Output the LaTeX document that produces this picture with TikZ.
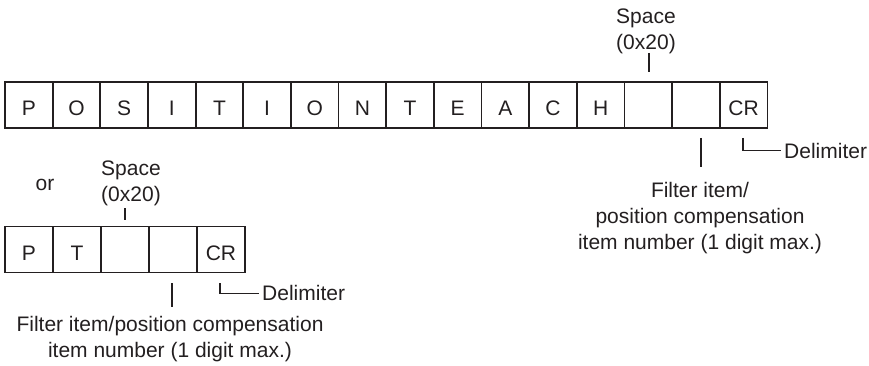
\documentclass[tikz,border=0pt]{standalone}
\usepackage{fontspec}
\setmainfont{Liberation Sans}
\definecolor{ink}{HTML}{231F20}
\begin{document}
\begin{tikzpicture}[x=1pt,y=-1pt,
  every node/.style={font=\fontsize{21}{26}\selectfont, text=ink},
  cellA/.style={draw=ink, line width=1.8pt, minimum width=47.65pt, minimum height=46pt,
    inner sep=0pt, text height=21.5pt, text depth=0pt},
  cellB/.style={cellA, minimum width=48pt},
  tick/.style={draw=ink, line width=1.3pt},
  lbl/.style={align=center, anchor=base, inner sep=0pt},
  delim/.style={anchor=base west, inner sep=0pt}]
\useasboundingbox (0,0) rectangle (869,366);

% top row
\foreach \t [count=\i] in {P,O,S,I,T,I,O,N,T,E,A,C,H,{},{},CR}
  \node[cellA] (t\i) at ({5+47.65*(\i-0.5)},105) {\t};

% top space label (base = last line)
\node[lbl] (sp1) at (646,50) {Space\\(0x20)};
\coordinate (sp1a) at (649,53);
\coordinate (sp1b) at (649,72);
\draw[tick] (sp1a) -- (sp1b);

% top filter
\coordinate (f1a) at (701,138);
\coordinate (f1b) at (701,167);
\draw[tick] (f1a) -- (f1b);
\node[lbl] (f1) at (700,249.5) {Filter item/\\position compensation\\item number (1 digit max.)};

% top delimiter
\node[delim] (d1) at (784,158.3) {Delimiter};
\coordinate (d1a) at (743,138);
\draw[tick] (d1a) |- ([xshift=-3pt]d1.west);

% or
\node[anchor=base, inner sep=0pt] (or) at (45,190) {or};

% bottom row
\foreach \t [count=\i] in {P,T,{},{},CR}
  \node[cellB] (b\i) at ({5+48*(\i-0.5)},249.4) {\t};

% bottom space label
\node[lbl] (sp2) at (131,201.7) {Space\\(0x20)};
\coordinate (sp2a) at (125,208);
\coordinate (sp2b) at (125,220);
\draw[tick] (sp2a) -- (sp2b);

% bottom filter
\coordinate (f2a) at (172,283);
\coordinate (f2b) at (172,307);
\draw[tick] (f2a) -- (f2b);
\node[lbl] (f2) at (170,357) {Filter item/position compensation\\item number (1 digit max.)};

% bottom delimiter
\node[delim] (d2) at (262,300.7) {Delimiter};
\coordinate (d2a) at (220,283);
\draw[tick] (d2a) |- ([xshift=-3pt]d2.west);
\end{tikzpicture}
\end{document}
